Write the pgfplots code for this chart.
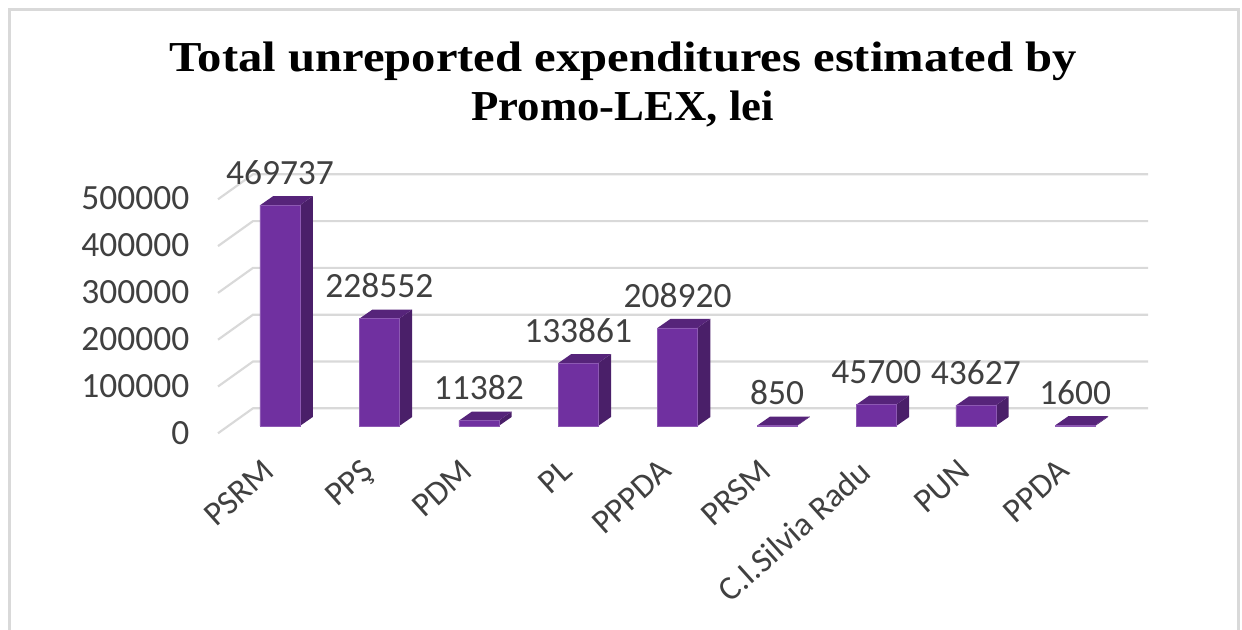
\documentclass[border=0pt]{standalone}
\usepackage{pgfplots}
\usepackage{pgfplotstable}
\usepackage{fontspec}
\pgfplotsset{compat=1.18}
\setmainfont{Carlito}
\newfontfamily\titlefonta{Liberation Serif Bold}[FakeStretch=1.14]
\newfontfamily\titlefontb{Liberation Serif Bold}[FakeStretch=1.05]
\definecolor{barfront}{HTML}{7030A0}
\definecolor{bartop}{HTML}{56247A}
\definecolor{barside}{HTML}{4A1F69}
\definecolor{gridc}{HTML}{D9D9D9}
\definecolor{labelc}{HTML}{404040}
\pgfplotstableread{
i v
0 469737
1 228552
2 11382
3 133861
4 208920
5 850
6 45700
7 43627
8 1600
}\expenses
\begin{document}
\begin{tikzpicture}
% 1 px of the reference = 0.75pt
\path[use as bounding box, fill=white] (0,0) rectangle (931.5pt,472.5pt);
\draw[gridc, line width=2.2pt] (7.1pt,0) -- (7.1pt,465.6pt) -- (928.9pt,465.6pt) -- (928.9pt,0);
\node[font=\titlefonta\fontsize{32}{36}\selectfont, text=black] at (467.5pt,426.5pt) {Total unreported expenditures estimated by};
\node[font=\titlefontb\fontsize{32}{36}\selectfont, text=black] at (467pt,391pt) {Promo-LEX, lei};
\begin{axis}[
  at={(157.5pt,142.5pt)}, anchor=south west,
  scale only axis, width=705pt, height=202.5pt,
  xmin=-0.7042, xmax=8.7525,
  ymin=-29787, ymax=544681,
  clip=false,
  axis line style={draw=none},
  tick style={draw=none},
  xtick={0,...,8},
  xticklabels={PSRM,PPŞ,PDM,PL,PPPDA,PRSM,C.I.Silvia Radu,PUN,PPDA},
  ytick={0,100000,200000,300000,400000,500000},
  scaled y ticks=false,
  yticklabel style={/pgf/number format/fixed, /pgf/number format/1000 sep={},
    /pgf/number format/assume math mode=true,
    font=\fontsize{26.6}{30}\selectfont, text=labelc, anchor=east, xshift=-12pt, yshift=-5pt},
  xticklabel style={font=\fontsize{25.4}{28}\selectfont, text=labelc, rotate=42,
    anchor=north east, xshift=-15.9pt, yshift=3.1pt},
]
% back wall and floor lines
\addplot[gridc, line width=1.6pt] coordinates {(-0.6237,-15531) (-0.2716,37660) (8.7324,37660)};
\addplot[gridc, line width=1.6pt] coordinates {(-0.6237,84043) (-0.2716,137234) (8.7324,137234)};
\addplot[gridc, line width=1.6pt] coordinates {(-0.6237,183618) (-0.2716,236809) (8.7324,236809)};
\addplot[gridc, line width=1.6pt] coordinates {(-0.6237,283192) (-0.2716,336383) (8.7324,336383)};
\addplot[gridc, line width=1.6pt] coordinates {(-0.6237,382766) (-0.2716,435957) (8.7324,435957)};
\addplot[gridc, line width=1.6pt] coordinates {(-0.6237,482341) (-0.2716,535532) (8.7324,535532)};
% side and top faces
\addplot[fill=barside, draw=none] coordinates {(0.2,0) (0.33,19150) (0.33,488887) (0.2,469737)} -- cycle;
\addplot[fill=bartop, draw=none] coordinates {(-0.2,469737) (-0.07,488887) (0.33,488887) (0.2,469737)} -- cycle;
\addplot[fill=barside, draw=none] coordinates {(1.2,0) (1.33,19150) (1.33,247702) (1.2,228552)} -- cycle;
\addplot[fill=bartop, draw=none] coordinates {(0.8,228552) (0.93,247702) (1.33,247702) (1.2,228552)} -- cycle;
\addplot[fill=barside, draw=none] coordinates {(2.2,0) (2.33,19150) (2.33,30532) (2.2,11382)} -- cycle;
\addplot[fill=bartop, draw=none] coordinates {(1.8,11382) (1.93,30532) (2.33,30532) (2.2,11382)} -- cycle;
\addplot[fill=barside, draw=none] coordinates {(3.2,0) (3.33,19150) (3.33,153011) (3.2,133861)} -- cycle;
\addplot[fill=bartop, draw=none] coordinates {(2.8,133861) (2.93,153011) (3.33,153011) (3.2,133861)} -- cycle;
\addplot[fill=barside, draw=none] coordinates {(4.2,0) (4.33,19150) (4.33,228070) (4.2,208920)} -- cycle;
\addplot[fill=bartop, draw=none] coordinates {(3.8,208920) (3.93,228070) (4.33,228070) (4.2,208920)} -- cycle;
\addplot[fill=barside, draw=none] coordinates {(5.2,0) (5.33,19150) (5.33,20000) (5.2,850)} -- cycle;
\addplot[fill=bartop, draw=none] coordinates {(4.8,850) (4.93,20000) (5.33,20000) (5.2,850)} -- cycle;
\addplot[fill=barside, draw=none] coordinates {(6.2,0) (6.33,19150) (6.33,64850) (6.2,45700)} -- cycle;
\addplot[fill=bartop, draw=none] coordinates {(5.8,45700) (5.93,64850) (6.33,64850) (6.2,45700)} -- cycle;
\addplot[fill=barside, draw=none] coordinates {(7.2,0) (7.33,19150) (7.33,62777) (7.2,43627)} -- cycle;
\addplot[fill=bartop, draw=none] coordinates {(6.8,43627) (6.93,62777) (7.33,62777) (7.2,43627)} -- cycle;
\addplot[fill=barside, draw=none] coordinates {(8.2,0) (8.33,19150) (8.33,20750) (8.2,1600)} -- cycle;
\addplot[fill=bartop, draw=none] coordinates {(7.8,1600) (7.93,20750) (8.33,20750) (8.2,1600)} -- cycle;
% front faces with the value labels
\addplot[ybar, bar width=30pt, bar shift=0pt, fill=barfront, draw=barfront!80!white, line width=0.4pt,
  point meta=explicit symbolic,
  nodes near coords,
  nodes near coords style={font=\fontsize{26.6}{30}\selectfont, text=labelc, anchor=center, yshift=24.5pt, inner sep=0pt},
] table[x=i, y=v, meta=v] {\expenses};
\end{axis}
\end{tikzpicture}
\end{document}
